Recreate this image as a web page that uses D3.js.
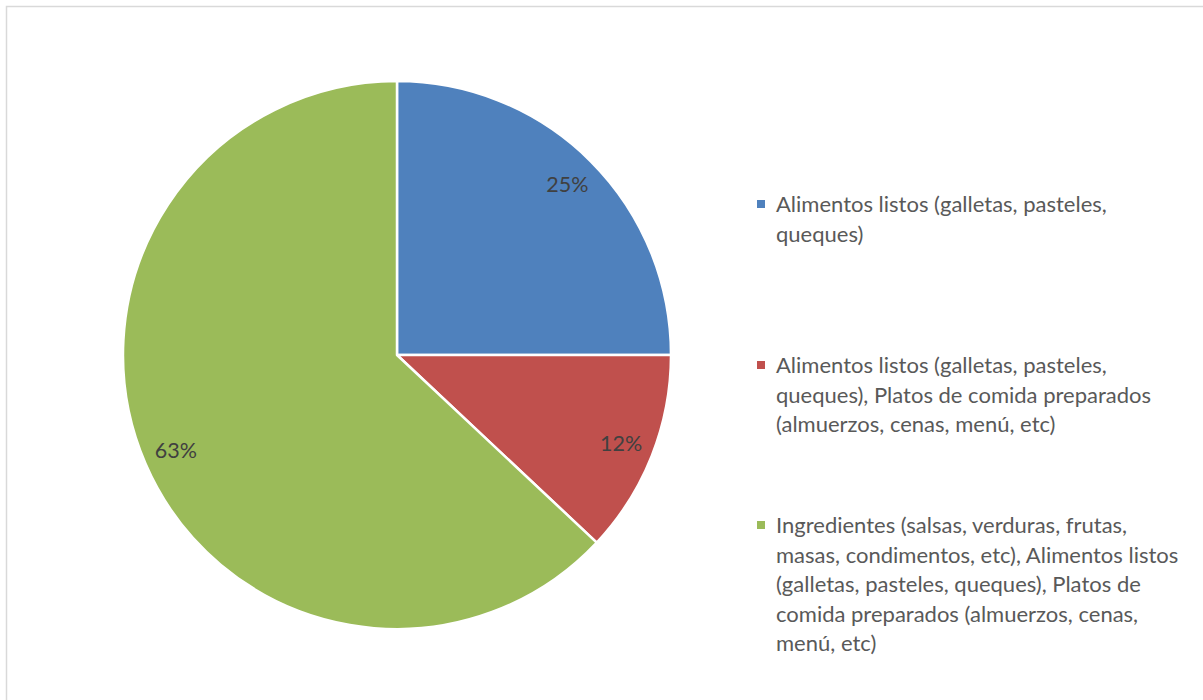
<!DOCTYPE html>
<html>
<head>
<meta charset="utf-8">
<script src="https://cdn.jsdelivr.net/npm/d3@7"></script>
<style>
  html, body { margin: 0; padding: 0; background: #ffffff; }
  svg { display: block; }
</style>
</head>
<body>
<svg id="chart" width="1203" height="700"></svg>
<script>
// Share of respondents by type of food purchased
const categories = [
  "Alimentos listos (galletas, pasteles, queques)",
  "Alimentos listos (galletas, pasteles, queques), Platos de comida preparados (almuerzos, cenas, menú, etc)",
  "Ingredientes (salsas, verduras, frutas, masas, condimentos, etc), Alimentos listos (galletas, pasteles, queques), Platos de comida preparados (almuerzos, cenas, menú, etc)"
];
const values = [25, 12, 63];
const sliceLabels = ["25%", "12%", "63%"];
const legendLines = [
  ["Alimentos listos (galletas, pasteles,", "queques)"],
  ["Alimentos listos (galletas, pasteles,", "queques), Platos de comida preparados", "(almuerzos, cenas, menú, etc)"],
  ["Ingredientes (salsas, verduras, frutas,", "masas, condimentos, etc), Alimentos listos", "(galletas, pasteles, queques), Platos de", "comida preparados (almuerzos, cenas,", "menú, etc)"]
];
const colors = ["#4F81BD", "#C0504D", "#9BBB59"];

const svg = d3.select("#chart");
const fontFamily = "Lato, 'Open Sans', sans-serif";

// chart frame
svg.append("rect")
  .attr("x", 6.5).attr("y", 6.5)
  .attr("width", 1210).attr("height", 710)
  .attr("fill", "#ffffff")
  .attr("stroke", "#d9d9d9")
  .attr("stroke-width", 1.5);

const cx = 397, cy = 355, radius = 274;
const color = d3.scaleOrdinal().domain(categories).range(colors);

const pie = d3.pie().sort(null).value(d => d.value);
const data = categories.map((c, i) => ({ category: c, value: values[i], label: sliceLabels[i] }));
const arcs = pie(data);

const arc = d3.arc().innerRadius(0).outerRadius(radius);
const labelArc = d3.arc().innerRadius(241).outerRadius(241);

const g = svg.append("g").attr("transform", `translate(${cx},${cy})`);

g.selectAll("path.slice")
  .data(arcs)
  .join("path")
  .attr("class", "slice")
  .attr("d", arc)
  .attr("fill", d => color(d.data.category))
  .attr("stroke", "#ffffff")
  .attr("stroke-width", 2.5)
  .attr("stroke-linejoin", "round");

g.selectAll("text.pct")
  .data(arcs)
  .join("text")
  .attr("class", "pct")
  .attr("transform", d => `translate(${labelArc.centroid(d)})`)
  .attr("text-anchor", "middle")
  .attr("dy", "0.36em")
  .attr("font-family", fontFamily)
  .attr("font-size", 21.5)
  .attr("fill", "#404040")
  .text(d => d.data.label);

// legend
const legendX = 757, textX = 776, lineH = 29.6;
const legendTop = [204, 365, 525];
const legend = svg.append("g");

const items = legend.selectAll("g.item")
  .data(categories)
  .join("g")
  .attr("class", "item");

items.append("rect")
  .attr("x", legendX)
  .attr("y", (d, i) => legendTop[i] - 4)
  .attr("width", 8).attr("height", 8)
  .attr("fill", d => color(d));

items.each(function(d, i) {
  const t = d3.select(this).append("text")
    .attr("font-family", fontFamily)
    .attr("font-size", 22)
    .attr("fill", "#595959");
  legendLines[i].forEach((line, j) => {
    t.append("tspan")
      .attr("x", textX)
      .attr("y", legendTop[i] + j * lineH)
      .attr("dy", "0.36em")
      .text(line);
  });
});
</script>
</body>
</html>
